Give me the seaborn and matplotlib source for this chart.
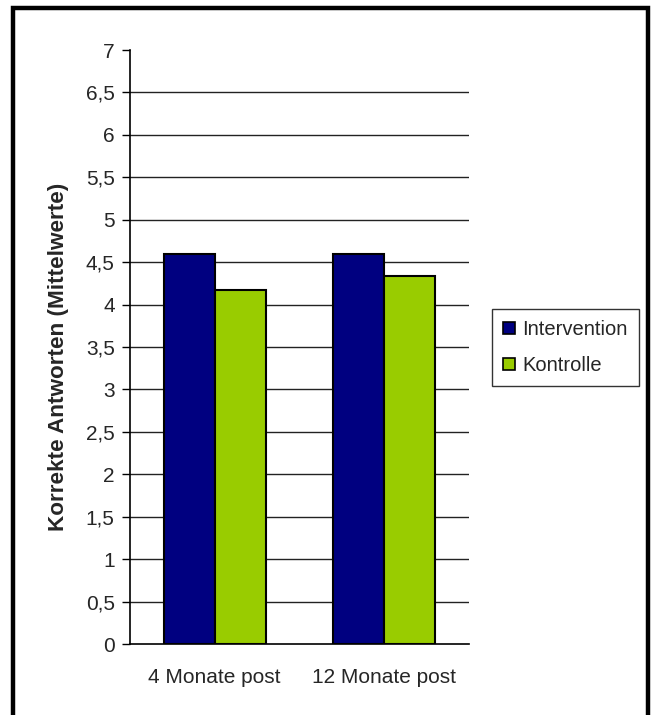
import matplotlib
matplotlib.use("Agg")
import matplotlib.pyplot as plt
import matplotlib.patches as mpatches
import seaborn as sns
import pandas as pd

categories = ["4 Monate post", "12 Monate post"]
groups = ["Intervention", "Kontrolle"]
intervention = [4.6, 4.6]
kontrolle = [4.17, 4.34]
ytick_values = [0, 0.5, 1, 1.5, 2, 2.5, 3, 3.5, 4, 4.5, 5, 5.5, 6, 6.5, 7]
ytick_labels = ["0", "0,5", "1", "1,5", "2", "2,5", "3", "3,5", "4", "4,5",
                "5", "5,5", "6", "6,5", "7"]
ylabel = "Korrekte Antworten (Mittelwerte)"
colors = ["#000080", "#99CC00"]

df = pd.DataFrame({
    "Zeitpunkt": categories * 2,
    "Gruppe": [groups[0]] * len(categories) + [groups[1]] * len(categories),
    "Wert": intervention + kontrolle,
})

sns.set_style("white")
plt.rcParams["font.family"] = ["Liberation Sans", "DejaVu Sans"]

W, H = 654, 715
fig = plt.figure(figsize=(W / 100, H / 100), dpi=100)
ax = fig.add_axes([130 / W, (H - 644) / H, (469 - 130) / W, (644 - 50) / H])

sns.barplot(data=df, x="Zeitpunkt", y="Wert", hue="Gruppe", order=categories,
            hue_order=groups, palette=colors, saturation=1, width=0.6,
            edgecolor="black", linewidth=1.5, ax=ax, legend=False, zorder=3)

ax.set_xlim(-0.5, len(categories) - 0.5)
ax.set_ylim(0, 7)
ax.set_yticks(ytick_values)
ax.set_yticklabels(ytick_labels, fontsize=15)
for v in ytick_values[1:-1]:
    ax.axhline(v, color="#222222", linewidth=1.0, zorder=1)

ax.set_xticks(range(len(categories)))
ax.set_xticklabels(categories, fontsize=15)
ax.set_xticks([i - 0.5 for i in range(len(categories) + 1)], minor=True)
ax.tick_params(axis="x", which="major", length=0, pad=17)
ax.tick_params(axis="x", which="minor", length=7, width=1, color="black", direction="out")
ax.tick_params(axis="y", length=6, width=1, color="black", direction="out", pad=5, left=True)
ax.set_xlabel("")
ax.set_ylabel(ylabel, fontsize=16.2, fontweight="bold")
ax.yaxis.label.set_va("center")
ax.yaxis.set_label_coords(-0.212, 0.483)

for s in ["top", "right"]:
    ax.spines[s].set_visible(False)
for s in ["left", "bottom"]:
    ax.spines[s].set_color("black")
    ax.spines[s].set_linewidth(1.2)

handles = [mpatches.Patch(facecolor=c, edgecolor="black", linewidth=1.2, label=g)
           for c, g in zip(colors, groups)]
leg = fig.legend(handles=handles, loc="upper left",
                 bbox_to_anchor=(492 / W, (H - 309) / H), fontsize=14.5,
                 frameon=True, fancybox=False, edgecolor="black",
                 handlelength=0.6, handleheight=0.6, handletextpad=0.35,
                 labelspacing=0.85, borderpad=0.55, borderaxespad=0)
leg.get_frame().set_linewidth(1.0)

frame = mpatches.Rectangle((13 / W, -0.05), (648 - 13) / W, (H - 8) / H + 0.05,
                           transform=fig.transFigure, fill=False,
                           edgecolor="black", linewidth=3.2, clip_on=False)
fig.patches.append(frame)

fig.savefig("out.png", dpi=100)
